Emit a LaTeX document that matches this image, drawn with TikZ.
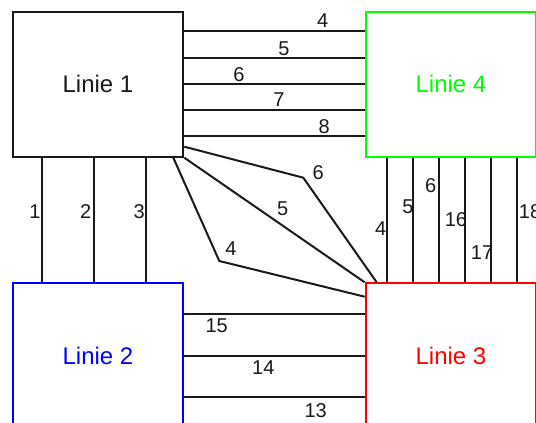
\documentclass[tikz,border=0pt]{standalone}
\usepackage{fontspec}
\setmainfont{Liberation Sans}
\usepackage{xcolor}
\usepackage{tikz}
\usetikzlibrary{positioning}
\definecolor{ink}{RGB}{25, 25, 25}
\definecolor{lineGreen}{RGB}{0, 255, 0}
\definecolor{lineBlue}{RGB}{0, 0, 255}
\definecolor{lineRed}{RGB}{255, 0, 0}

\begin{document}
\begin{tikzpicture}[
    x=0.5pt, y=-0.5pt,
    linie/.style={rectangle, line width=1pt, minimum width=85.3pt, minimum height=72.5pt, inner sep=0pt, font=\fontsize{12}{14}\selectfont},
    track/.style={draw=ink, line width=1pt},
    num/.style={inner sep=0pt, text=ink, font=\fontsize{10}{12}\selectfont}
]
    \useasboundingbox (0,0) rectangle (536,423);
    \clip (0,0) rectangle (536,423);

    % the four lines
    \node[linie, draw=ink, text=ink] (l1) at (98,84.2) {Linie 1};
    \node[linie, draw=lineGreen, text=lineGreen] (l4) at (451,84.2) {Linie 4};
    \node[linie, draw=lineBlue, text=lineBlue] (l2) at (98,355.8) {Linie 2};
    \node[linie, draw=lineRed, text=lineRed] (l3) at (451,355.8) {Linie 3};

    % Linie 1 -- Linie 4
    \draw[track] (l1.east |- 0,31.3) -- (l4.west |- 0,31.3);
    \draw[track] (l1.east |- 0,57.7) -- (l4.west |- 0,57.7);
    \draw[track] (l1.east |- 0,83.7) -- (l4.west |- 0,83.7);
    \draw[track] (l1.east |- 0,110) -- (l4.west |- 0,110);
    \draw[track] (l1.east |- 0,136.3) -- (l4.west |- 0,136.3);
    \node[num] (a4) at (322.7,21) {4};
    \node[num] (a5) at (284,48.3) {5};
    \node[num] (a6) at (239,74.3) {6};
    \node[num] (a7) at (279,100) {7};
    \node[num] (a8) at (324.3,126.7) {8};

    % Linie 1 -- Linie 2
    \draw[track] (l1.south -| 41.7,0) -- (l2.north -| 41.7,0);
    \draw[track] (l1.south -| 94,0) -- (l2.north -| 94,0);
    \draw[track] (l1.south -| 146.3,0) -- (l2.north -| 146.3,0);
    \node[num] (b1) at (35,211.7) {1};
    \node[num] (b2) at (85.7,211.7) {2};
    \node[num] (b3) at (139.3,211.7) {3};

    % Linie 1 -- Linie 3
    \coordinate (k6) at (303.3,177.7);
    \coordinate (k4) at (219.3,261);
    \draw[track] (l1.east |- 0,146.7) -- (k6) -- (l3.north -| 376.7,0);
    \draw[track] (l1.south east) -- (l3.north west);
    \draw[track] (l1.south -| 173.3,0) -- (k4) -- (l3.west |- 0,296.7);
    \node[num] (c6) at (318.3,172.7) {6};
    \node[num] (c5) at (282.7,209) {5};
    \node[num] (c4) at (231,249) {4};

    % Linie 4 -- Linie 3
    \draw[track] (l4.south -| 386.7,0) -- (l3.north -| 386.7,0);
    \draw[track] (l4.south -| 412.7,0) -- (l3.north -| 412.7,0);
    \draw[track] (l4.south -| 439,0) -- (l3.north -| 439,0);
    \draw[track] (l4.south -| 465,0) -- (l3.north -| 465,0);
    \draw[track] (l4.south -| 491,0) -- (l3.north -| 491,0);
    \draw[track] (l4.south -| 517.3,0) -- (l3.north -| 517.3,0);
    \node[num] (d4) at (380.7,229) {4};
    \node[num] (d5) at (408,207) {5};
    \node[num] (d6) at (430.7,186) {6};
    \node[num] (d16) at (456,220) {16};
    \node[num] (d17) at (482,252.7) {17};
    \node[num] (d18) at (530,211.7) {18};

    % Linie 2 -- Linie 3
    \draw[track] (l2.east |- 0,314) -- (l3.west |- 0,314);
    \draw[track] (l2.east |- 0,355.7) -- (l3.west |- 0,355.7);
    \draw[track] (l2.east |- 0,397.3) -- (l3.west |- 0,397.3);
    \node[num] (e15) at (216.7,326) {15};
    \node[num] (e14) at (263.3,367.3) {14};
    \node[num] (e13) at (315.7,411) {13};
\end{tikzpicture}
\end{document}
